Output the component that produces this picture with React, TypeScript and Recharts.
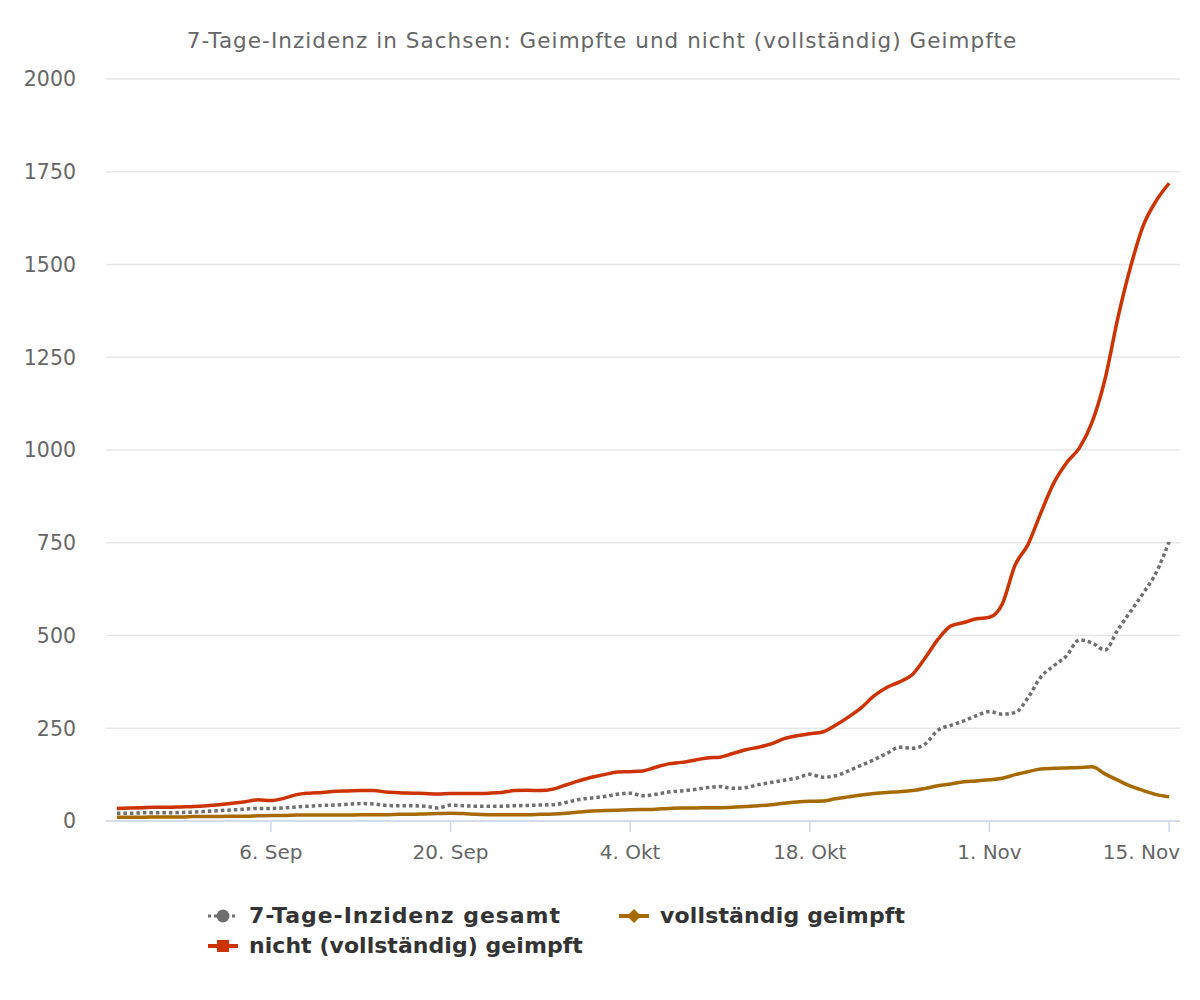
import { LineChart, Line, XAxis, YAxis, CartesianGrid } from "recharts";

const DAY = 24 * 60 * 60 * 1000;
const startDate = Date.UTC(2021, 7, 25); // 25. Aug 2021, one value per day

// 7-Tage-Inzidenz gesamt
const gesamt = [
  21, 21, 22, 22, 22, 23, 24, 26, 28, 30,
  32, 34, 34, 35, 38, 40, 42, 43, 45, 47,
  46, 42, 41, 41, 40, 35, 43, 41, 40, 40,
  40, 41, 42, 43, 44, 50, 58, 62, 66, 72,
  75, 68, 72, 78, 81, 85, 90, 93, 88, 90,
  98, 104, 110, 116, 126, 118, 122, 135, 150, 165,
  182, 199, 196, 208, 245, 258, 270, 284, 295, 288,
  292, 332, 388, 418, 445, 488, 480, 461, 515, 565,
  615, 670, 753,
];

// nicht (vollständig) geimpft
const ungeimpft = [
  34, 35, 36, 37, 37, 38, 39, 41, 44, 48,
  52, 57, 55, 61, 71, 75, 77, 80, 81, 82,
  82, 78, 76, 75, 74, 73, 74, 74, 74, 75,
  77, 82, 83, 82, 86, 97, 108, 118, 125, 132,
  133, 135, 145, 154, 158, 164, 170, 172, 182, 192,
  199, 208, 222, 230, 235, 240, 258, 280, 305, 337,
  360, 375, 395, 440, 490, 526, 535, 545, 549, 585,
  690, 745, 830, 910, 965, 1005, 1075, 1190, 1355, 1494,
  1606, 1672, 1719,
];

// vollständig geimpft
const geimpft = [
  10, 10, 10, 11, 11, 11, 12, 12, 12, 13,
  13, 14, 15, 15, 16, 16, 16, 16, 16, 17,
  17, 17, 18, 18, 19, 20, 21, 20, 18, 17,
  17, 17, 17, 18, 19, 21, 24, 27, 28, 29,
  30, 31, 32, 34, 35, 35, 36, 36, 37, 39,
  41, 44, 48, 51, 53, 54, 60, 65, 70, 74,
  77, 79, 82, 88, 95, 100, 106, 108, 111, 115,
  125, 133, 140, 142, 143, 144, 146, 127, 110, 94,
  82, 71, 65,
];

const xTickDates = [
  Date.UTC(2021, 8, 6),
  Date.UTC(2021, 8, 20),
  Date.UTC(2021, 9, 4),
  Date.UTC(2021, 9, 18),
  Date.UTC(2021, 10, 1),
  Date.UTC(2021, 10, 15),
];
const xTickLabels = ["6. Sep", "20. Sep", "4. Okt", "18. Okt", "1. Nov", "15. Nov"];
const yTicks = [0, 250, 500, 750, 1000, 1250, 1500, 1750, 2000];

const COLORS = {
  gesamt: "#6f6f6f",
  ungeimpft: "#cc3300",
  geimpft: "#a66a00",
};

const FONT = "'DejaVu Sans', 'Lucida Grande', sans-serif";
const CHART_W = 1200;
const PLOT_RIGHT = 1180;

const data = gesamt.map((v, i) => ({
  t: startDate + i * DAY,
  gesamt: v,
  ungeimpft: ungeimpft[i],
  geimpft: geimpft[i],
}));

const xMin = startDate - 0.85 * DAY;
const xMax = startDate + (gesamt.length - 1) * DAY + 0.85 * DAY;

// keeps the last date label inside the plot, like the original
function XTick(props: any) {
  const { x, y, payload } = props;
  const label = xTickLabels[xTickDates.indexOf(payload.value)] ?? "";
  const approxW = label.length * 11.2;
  const anchorEnd = x + approxW / 2 > PLOT_RIGHT;
  return (
    <text
      x={anchorEnd ? PLOT_RIGHT : x}
      y={y}
      dy="0.71em"
      textAnchor={anchorEnd ? "end" : "middle"}
      fill="#666666"
      fontSize={20}
      fontFamily={FONT}
    >
      {label}
    </text>
  );
}

function LegendSymbol({ kind }: { kind: "gesamt" | "ungeimpft" | "geimpft" }) {
  const color = COLORS[kind];
  return (
    <svg width={32} height={16} style={{ display: "block" }}>
      <line
        x1={1}
        y1={8}
        x2={31}
        y2={8}
        stroke={color}
        strokeWidth={kind === "gesamt" ? 3 : 4}
        strokeDasharray={kind === "gesamt" ? "3 3" : undefined}
      />
      {kind === "gesamt" && <circle cx={16} cy={8} r={6.5} fill={color} />}
      {kind === "ungeimpft" && <rect x={10} y={2} width={12} height={12} fill={color} />}
      {kind === "geimpft" && <path d="M16 1 L23 8 L16 15 L9 8 Z" fill={color} />}
    </svg>
  );
}

function LegendItem({ kind, label, left, top, spacing }: { kind: "gesamt" | "ungeimpft" | "geimpft"; label: string; left: number; top: number; spacing: number }) {
  return (
    <div style={{ position: "absolute", left, top, display: "flex", alignItems: "center", gap: 10 }}>
      <LegendSymbol kind={kind} />
      <span
        style={{
          fontFamily: FONT,
          fontWeight: "bold",
          fontSize: 22,
          letterSpacing: spacing,
          color: "#333333",
          whiteSpace: "nowrap",
        }}
      >
        {label}
      </span>
    </div>
  );
}

export default function App() {
  return (
    <div style={{ position: "relative", width: CHART_W, height: 1000, background: "#ffffff" }}>
      <style>{"body{margin:0}"}</style>
      <div
        style={{
          position: "absolute",
          top: 28,
          left: 0,
          width: CHART_W,
          textAlign: "center",
          fontFamily: FONT,
          fontSize: 21.5,
          letterSpacing: 1.05,
          color: "#666666",
          paddingLeft: 2,
        }}
      >
        7-Tage-Inzidenz in Sachsen: Geimpfte und nicht (vollständig) Geimpfte
      </div>
      <LineChart width={CHART_W} height={1000} data={data} margin={{ top: 79, right: 20, bottom: 149, left: 26 }}>
        <CartesianGrid horizontal vertical={false} stroke="#e6e6e6" strokeWidth={1.5} />
        <XAxis
          dataKey="t"
          type="number"
          domain={[xMin, xMax]}
          ticks={xTickDates}
          stroke="#ccd6eb"
          strokeWidth={1.5}
          tickSize={11}
          tickMargin={13}
          height={30}
          tick={<XTick />}
          allowDataOverflow
        />
        <YAxis
          domain={[0, 2000]}
          ticks={yTicks}
          axisLine={false}
          tickLine={false}
          tickSize={0}
          tickMargin={30}
          width={80}
          tick={{ fill: "#666666", fontSize: 20.5, fontFamily: FONT }}
        />
        <Line
          dataKey="gesamt"
          type="monotone"
          stroke={COLORS.gesamt}
          strokeWidth={3.5}
          strokeDasharray="3.5 3"
          dot={false}
          activeDot={false}
          isAnimationActive={false}
        />
        <Line
          dataKey="geimpft"
          type="monotone"
          stroke={COLORS.geimpft}
          strokeWidth={3.5}
          dot={false}
          activeDot={false}
          isAnimationActive={false}
        />
        <Line
          dataKey="ungeimpft"
          type="monotone"
          stroke={COLORS.ungeimpft}
          strokeWidth={3.5}
          dot={false}
          activeDot={false}
          isAnimationActive={false}
        />
      </LineChart>
      <LegendItem kind="gesamt" label="7-Tage-Inzidenz gesamt" left={207} top={903} spacing={0.95} />
      <LegendItem kind="geimpft" label="vollständig geimpft" left={618} top={903} spacing={0.15} />
      <LegendItem kind="ungeimpft" label="nicht (vollständig) geimpft" left={207} top={933} spacing={0.05} />
    </div>
  );
}
